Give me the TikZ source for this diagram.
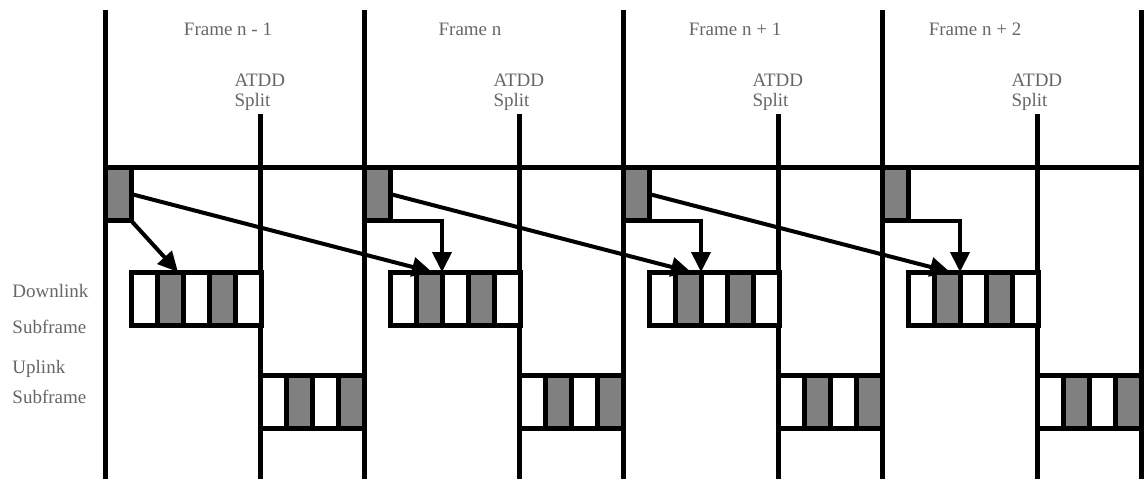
\documentclass[tikz,border=0pt]{standalone}
\usepackage{fontspec}
\setmainfont{Liberation Serif}
\usetikzlibrary{positioning}
\usetikzlibrary{arrows.meta}

\begin{document}
\begin{tikzpicture}
[x=1pt, y=-1pt, line width=5pt, >={Triangle[length=20pt,width=19pt]},
 cell/.style={draw, line width=5pt, minimum width=26pt, minimum height=53pt, inner sep=0pt, outer sep=0pt},
 lbl/.style={font=\fontsize{19}{21}\selectfont, text=black!60, inner sep=0pt, anchor=base west},
 link/.style={->, line width=4pt}]

\useasboundingbox (0,0) rectangle (1148,481);

% Frame boundaries and the common line:
\foreach \i in {0,...,4}
  \draw (105+259*\i,10) -- (105+259*\i,479);
\draw (105,168) -- (1141,168);

% Row labels:
\node[lbl] (dlA) at (10,297) {Downlink};
\node[lbl] (dlB) at (10,333) {Subframe};
\node[lbl] (ulA) at (10,373) {Uplink};
\node[lbl] (ulB) at (10,403) {Subframe};

% Frames:
\foreach \i/\name/\lx in {0/Frame n - 1/123, 1/Frame n/106, 2/Frame n + 1/112, 3/Frame n + 2/93} {
  \pgfmathsetmacro{\xo}{105+259*\i}
  \node[lbl, anchor=base] (title\i) at (\xo+\lx,36) {\name};
  \node[lbl] (atdd\i) at (\xo+127,87) {ATDD};
  \node[lbl] (split\i) at (\xo+127,107) {Split};
  \draw (\xo+155,114) -- (\xo+155,479);
  \node[cell, fill=gray] (ctl\i) at (\xo+13,194) {};
  % Downlink subframe:
  \foreach \k/\c in {0/white,1/gray,2/white,3/gray,4/white}
    \node[cell, fill=\c] (dl\i-\k) at (\xo+39+26*\k,298.5) {};
  % Uplink subframe:
  \foreach \k/\c in {0/white,1/gray,2/white,3/gray}
    \node[cell, fill=\c] (ul\i-\k) at (\xo+168+26*\k,402) {};
}

% Allocations:
\draw[link] (ctl0.south east) -- ([xshift=8pt]dl0-1.north);
\foreach \i in {1,2,3}
  \draw[link] (ctl\i.south east) -| (dl\i-1.north east);
\foreach \i [count=\j] in {0,1,2}
  \draw[link] (ctl\i.east) -- ([xshift=3pt]dl\j-1.north);

\end{tikzpicture}
\end{document}
